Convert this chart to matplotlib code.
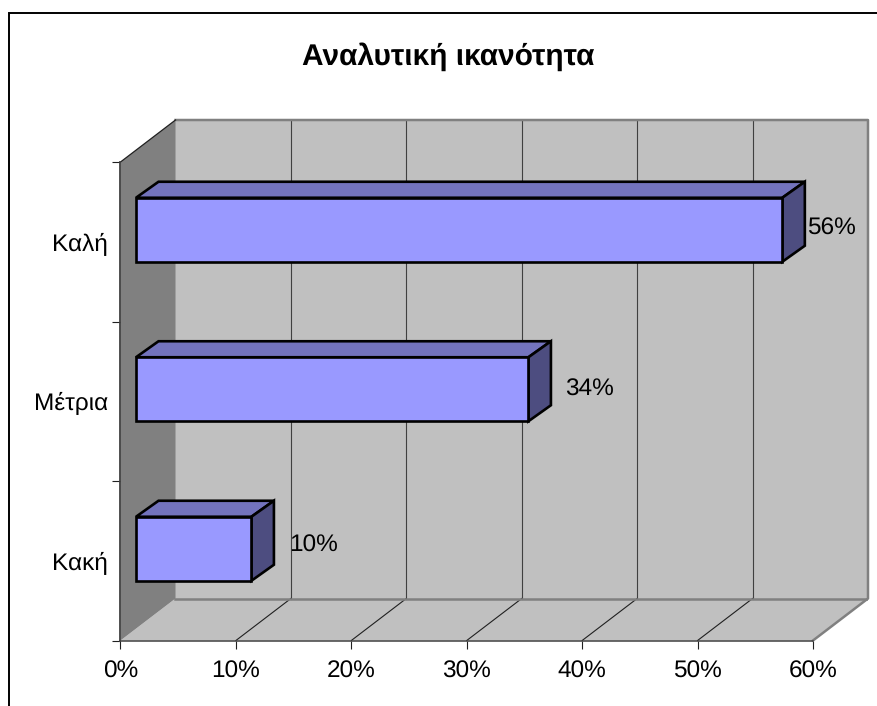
import matplotlib
matplotlib.use('Agg')
import matplotlib.pyplot as plt
from matplotlib.lines import Line2D
from matplotlib.patches import Polygon

plt.rcParams['font.family'] = ['Liberation Sans', 'DejaVu Sans']
plt.rcParams['text.hinting'] = 'no_hinting'

categories = ['Κακή', 'Μέτρια', 'Καλή']
values = [10, 34, 56]
labels = ['10%', '34%', '56%']
x_ticks = [0, 10, 20, 30, 40, 50, 60]
title = 'Αναλυτική ικανότητα'

W, H = 878, 706
# front plane of the fake 3d box, in pixels
left_px, right_px, top_px, bottom_px = 120.5, 813.0, 162.0, 640.5
depth_px = (55.0, 42.0)

px_x = (right_px - left_px) / 60
px_y = (bottom_px - top_px) / 3
depth_x = depth_px[0] / px_x
depth_y = depth_px[1] / px_y

fig = plt.figure(figsize=(W / 100, H / 100), dpi=100)
fig.patch.set_facecolor('white')
# only top and left of the outer frame are inside the picture
fig.add_artist(Line2D([8.5 / W, 8.5 / W, 1], [0, 1 - 12.5 / H, 1 - 12.5 / H], transform=fig.transFigure,
                      color='black', linewidth=1.4, solid_joinstyle='miter'))

ax = fig.add_axes([left_px / W, 1 - bottom_px / H,
                   (right_px - left_px + depth_px[0]) / W,
                   (bottom_px - top_px + depth_px[1]) / H])
ax.set_xlim(0, 60 + depth_x)
ax.set_ylim(0, 3 + depth_y)
ax.patch.set_visible(False)
for s in ax.spines.values():
    s.set_visible(False)

# walls and floor
ax.add_patch(Polygon([(depth_x, depth_y), (60 + depth_x, depth_y), (60 + depth_x, 3 + depth_y), (depth_x, 3 + depth_y)],
                     facecolor='#C0C0C0', edgecolor='none', zorder=1))
ax.add_patch(Polygon([(0, 0), (60, 0), (60 + depth_x, depth_y), (depth_x, depth_y)],
                     facecolor='#C0C0C0', edgecolor='none', zorder=1))
ax.add_patch(Polygon([(0, 0), (depth_x, depth_y), (depth_x, 3 + depth_y), (0, 3)],
                     facecolor='#808080', edgecolor='none', zorder=1))

# gridlines on back wall and floor
for t in x_ticks[1:-1]:
    ax.plot([t + depth_x, t + depth_x], [depth_y, 3 + depth_y], color='#404040', lw=0.8, zorder=2, clip_on=False)
    ax.plot([t, t + depth_x], [0, depth_y], color='#202020', lw=0.8, zorder=2, clip_on=False)

# grey outline of the back wall and floor
ax.plot([depth_x, 60 + depth_x, 60 + depth_x, 60], [3 + depth_y, 3 + depth_y, depth_y, 0],
        color='#808080', lw=1.8, zorder=3, clip_on=False)
ax.plot([depth_x, 60 + depth_x], [depth_y, depth_y], color='#808080', lw=1.8, zorder=3)
ax.plot([0, depth_x], [3, 3 + depth_y], color='#202020', lw=0.9, zorder=3, clip_on=False)
ax.plot([0, 60], [0, 0], color='#404040', lw=1.1, zorder=3, clip_on=False)
ax.plot([0, 0], [0, 3], color='#404040', lw=1.3, zorder=3, clip_on=False)

# bars, front face sits a bit behind the front plane
off_x = 15.5 / px_x
off_y = 12.0 / px_y
bar_dx = 22.5 / px_x
bar_dy = 16.0 / px_y
bar_h = 64.0 / px_y
label_offsets = [(38, 3), (37, 0), (25, 1)]

for i, v in enumerate(values):
    x0 = off_x
    x1 = off_x + v
    y0 = i + 0.5 - bar_h / 2 + off_y
    y1 = y0 + bar_h
    ax.add_patch(Polygon([(x0, y1), (x1, y1), (x1 + bar_dx, y1 + bar_dy), (x0 + bar_dx, y1 + bar_dy)],
                         facecolor='#7373BD', edgecolor='black', linewidth=1.9, joinstyle='miter', zorder=4))
    ax.add_patch(Polygon([(x1, y0), (x1 + bar_dx, y0 + bar_dy), (x1 + bar_dx, y1 + bar_dy), (x1, y1)],
                         facecolor='#4D4D80', edgecolor='black', linewidth=1.9, joinstyle='miter', zorder=4))
    ax.add_patch(Polygon([(x0, y0), (x1, y0), (x1, y1), (x0, y1)],
                         facecolor='#9999FF', edgecolor='black', linewidth=1.9, joinstyle='miter', zorder=5))
    ax.annotate(labels[i], xy=(x1, (y0 + y1) / 2), xytext=label_offsets[i], textcoords='offset pixels',
                ha='left', va='center', fontsize=17.6, color='black', zorder=6)

ax.set_xticks(x_ticks)
ax.set_xticklabels([f'{t}%' for t in x_ticks], fontsize=17.6)
ax.set_yticks([0, 1, 2, 3])
ax.set_yticklabels([])
ax.set_yticks([0.5, 1.5, 2.5], minor=True)
ax.set_yticklabels(categories, minor=True, fontsize=17.6)
ax.tick_params(axis='x', which='major', length=6, width=0.8, color='#202020', pad=8.5)
ax.tick_params(axis='y', which='major', length=6, width=0.8, color='#202020')
ax.tick_params(axis='y', which='minor', length=0, pad=9)

fig.text(448.5 / W, 1 - 57 / H, title, ha='center', va='center', fontsize=21.5, fontweight='bold')

fig.savefig('out.png', dpi=100)
